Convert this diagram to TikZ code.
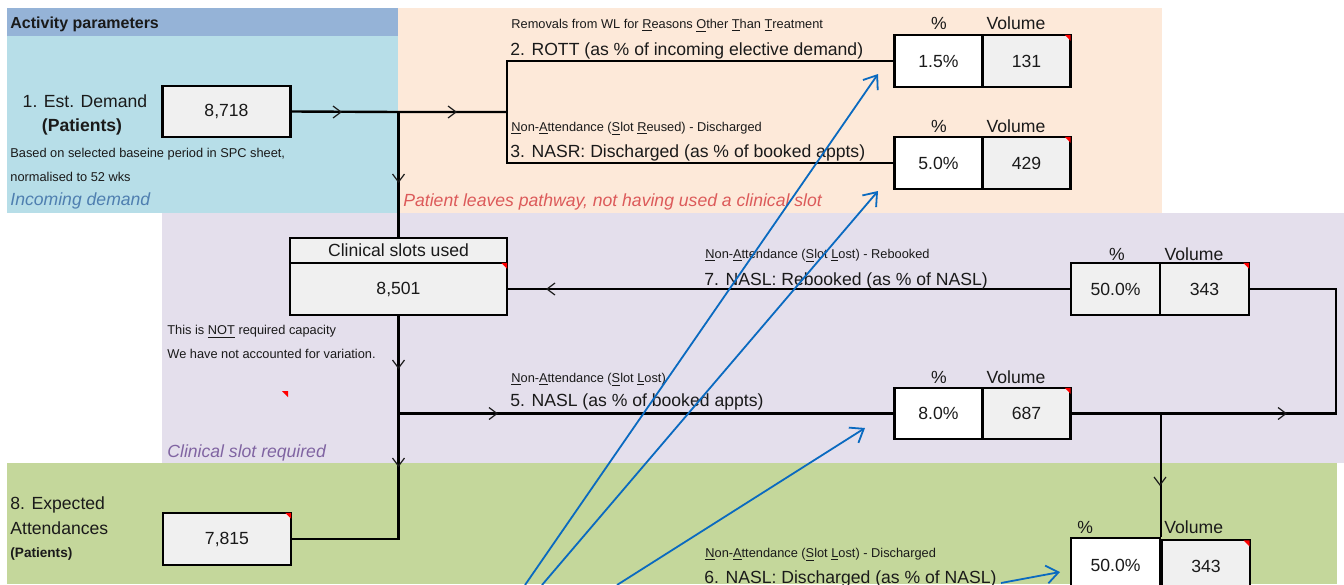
\documentclass[tikz,border=0pt]{standalone}
\usepackage{fontspec}
\setmainfont{Liberation Sans}
\usetikzlibrary{arrows.meta,calc}
\definecolor{hdr}{HTML}{95B3D7}
\definecolor{ltblue}{HTML}{B7DEE8}
\definecolor{peach}{HTML}{FDE9D9}
\definecolor{lav}{HTML}{E4DFEC}
\definecolor{grn}{HTML}{C4D79B}
\definecolor{cellgray}{HTML}{F0F0F0}
\definecolor{inblue}{HTML}{4F7FB0}
\definecolor{leavered}{HTML}{DC5A5A}
\definecolor{slotpurple}{HTML}{8064A2}
\definecolor{arrblue}{HTML}{0A6AC0}
\definecolor{txt}{HTML}{1A1A1A}
\begin{document}
\begin{tikzpicture}[x=0.5pt,y=-0.5pt,
  txtbig/.style={font=\fontsize{8.8}{10}\selectfont, text=txt, inner sep=0pt},
  txtsmall/.style={font=\fontsize{6.4}{7.5}\selectfont, text=txt, inner sep=0pt},
  cellbox/.style={draw=black, line width=1.2pt, inner sep=0pt, font=\fontsize{8.8}{10}\selectfont, text=txt},
  graycell/.style={cellbox, fill=cellgray},
  whitecell/.style={cellbox, fill=white},
  conn/.style={draw=black, line width=1.2pt},
  bluearrow/.style={draw=arrblue, line width=0.9pt, -{Straight Barb[length=6pt,width=9pt,line width=0.9pt]}},
  chevR/.pic={\draw[line width=0.6pt, txt] (-4,-6) -- (4,0) -- (-4,6);},
  chevL/.pic={\draw[line width=0.6pt, txt] (4,-6) -- (-4,0) -- (4,6);},
  chevD/.pic={\draw[line width=0.6pt, txt] (-6,-4) -- (0,4) -- (6,-4);},
  redc/.pic={\fill[red] (-6,0) -- (0,0) -- (0,6) -- cycle;}
]
\useasboundingbox (0,0) rectangle (1344,584);
\clip (0,0) rectangle (1344,584);
\fill[white] (0,0) rectangle (1344,584);

% backgrounds
\fill[hdr] (7,8) rectangle (398,36);
\fill[ltblue] (7,36) rectangle (398,213);
\fill[peach] (398,8) rectangle (1162,213);
\fill[lav] (162,213) rectangle (1344,463);
\fill[grn] (7,463) rectangle (1337,584);

% boxes
\node[graycell, minimum width=64pt, minimum height=25.5pt] (b1) at (226.5,111.5) {8,718};
\node[whitecell, minimum width=44pt, minimum height=26pt] (r1p) at (938.5,61) {1.5\%};
\node[graycell, minimum width=44pt, minimum height=26pt] (r1v) at (1026.5,61) {131};
\node[whitecell, minimum width=44pt, minimum height=26pt] (r2p) at (938.5,163) {5.0\%};
\node[graycell, minimum width=44pt, minimum height=26pt] (r2v) at (1026.5,163) {429};
\node[graycell, minimum width=108.5pt, minimum height=12.5pt] (csh) at (398.5,250.5) {Clinical slots used};
\node[graycell, minimum width=108.5pt, minimum height=26pt] (csv) at (398.5,289) {8,501};
\node[graycell, minimum width=44.5pt, minimum height=26pt] (b7p) at (1115.5,289) {50.0\%};
\node[graycell, minimum width=44.5pt, minimum height=26pt] (b7v) at (1204.5,289) {343};
\node[whitecell, minimum width=44pt, minimum height=25.5pt] (b5p) at (938.5,413.5) {8.0\%};
\node[graycell, minimum width=44pt, minimum height=25.5pt] (b5v) at (1026.5,413.5) {687};
\node[graycell, minimum width=64pt, minimum height=26pt] (b8) at (227,539) {7,815};
\node[whitecell, minimum width=44.5pt, minimum height=27pt] (b6p) at (1115.5,565) {50.0\%};
\node[graycell, line width=0.6pt, minimum width=44pt, minimum height=26pt] (b6v) at (1206,566) {343};

% connectors
\coordinate (j1) at (398.5,112);
\coordinate (j2) at (507,112);
\coordinate (loop) at (1336,350);
\draw[conn] (b1.east) -- (j1) -- (j2);
\draw[conn] (r1p.west) -| (j2) |- (r2p.west);
\draw[conn] (j1) -- (csh.north);
\draw[conn] (csv.east) -- (b7p.west);
\draw[conn] (b7v.east) -| (loop) |- (b5v.east);
\draw[conn] (csv.south) -- (csv.south |- b8.east) -- (b8.east);
\draw[conn] (csv.south |- b5p.west) -- (b5p.west);
\draw[conn] (b6p.north east |- b5v.east) -- (b6p.north east);

% chevrons
\pic at (337,112) {chevR};
\pic at (452,112) {chevR};
\pic at (493,413.5) {chevR};
\pic at (1282,413.5) {chevR};
\pic at (551,289) {chevL};
\pic at (398.5,178) {chevD};
\pic at (398.5,364) {chevD};
\pic at (398.5,462) {chevD};
\pic at (1160,481) {chevD};

% red corner marks
\pic at ($(r1v.north east)+(-1,1)$) {redc};
\pic at ($(r2v.north east)+(-1,1)$) {redc};
\pic at ($(csv.north east)+(-1,1)$) {redc};
\pic at ($(b7v.north east)+(-1,1)$) {redc};
\pic at ($(b5v.north east)+(-1,1)$) {redc};
\pic at ($(b8.north east)+(-1,1)$) {redc};
\pic at ($(b6v.north east)+(-1,1)$) {redc};
\pic at (288,391) {redc};

% texts: blue panel
\node[anchor=base west, inner sep=0pt, font=\bfseries\fontsize{8}{9}\selectfont, text=txt] (hdrtxt) at (10,28) {Activity parameters};
\node[txtbig, anchor=base] (t1a) at (85,107) {1. Est. Demand};
\node[txtbig, anchor=base, font=\bfseries\fontsize{8.8}{10}\selectfont] (t1b) at (82,131) {(Patients)};
\node[txtsmall, anchor=base west] (t1c) at (10,157) {Based on selected baseine period in SPC sheet,};
\node[txtsmall, anchor=base west] (t1d) at (10,181) {normalised to 52 wks};
\node[txtbig, anchor=base west, text=inblue, font=\itshape\fontsize{8.8}{10}\selectfont] (t1e) at (10,205) {Incoming demand};

% peach panel
\node[txtsmall, anchor=base west] (t2a) at (511,28) {Removals from WL for \underline{R}easons \underline{O}ther \underline{T}han \underline{T}reatment};
\node[txtbig, anchor=base west] (t2b) at (510,55) {2. ROTT (as \% of incoming elective demand)};
\node[txtsmall, anchor=base west] (t3a) at (511,131) {\underline{N}on-\underline{A}ttendance (\underline{S}lot \underline{R}eused) - Discharged};
\node[txtbig, anchor=base west] (t3b) at (510,157) {3. NASR: Discharged (as \% of booked appts)};
\node[txtbig, anchor=base west, text=leavered, font=\itshape\fontsize{8.8}{10}\selectfont] (t3c) at (403,206) {Patient leaves pathway, not having used a clinical slot};
\node[txtbig, anchor=base] (p2) at (939,29) {\%};
\node[txtbig, anchor=base] (v2) at (1016,29) {Volume};
\node[txtbig, anchor=base] (p3) at (939,132) {\%};
\node[txtbig, anchor=base] (v3) at (1016,132) {Volume};

% lavender panel
\node[txtsmall, anchor=base west] (t7a) at (705,258) {\underline{N}on-\underline{A}ttendance (\underline{S}lot \underline{L}ost) - Rebooked};
\node[txtbig, anchor=base west] (t7b) at (704,285) {7. NASL: Rebooked (as \% of NASL)};
\node[txtbig, anchor=base] (p7) at (1117,260) {\%};
\node[txtbig, anchor=base] (v7) at (1194,260) {Volume};
\node[txtsmall, anchor=base west] (tn1) at (167,334) {This is \underline{NOT} required capacity};
\node[txtsmall, anchor=base west] (tn2) at (167,358) {We have not accounted for variation.};
\node[txtbig, anchor=base west, text=slotpurple, font=\itshape\fontsize{8.8}{10}\selectfont] (tcs) at (167,457) {Clinical slot required};
\node[txtsmall, anchor=base west] (t5a) at (511,382) {\underline{N}on-\underline{A}ttendance (\underline{S}lot \underline{L}ost)};
\node[txtbig, anchor=base west] (t5b) at (510,406) {5. NASL (as \% of booked appts)};
\node[txtbig, anchor=base] (p5) at (939,383) {\%};
\node[txtbig, anchor=base] (v5) at (1016,383) {Volume};

% green panel
\node[txtbig, anchor=base west] (t8a) at (10,509) {8. Expected};
\node[txtbig, anchor=base west] (t8b) at (10,534) {Attendances};
\node[anchor=base west, inner sep=0pt, text=txt, font=\bfseries\fontsize{6.8}{8}\selectfont] (t8c) at (10,557) {(Patients)};
\node[txtsmall, anchor=base west] (t6a) at (705,557) {\underline{N}on-\underline{A}ttendance (\underline{S}lot \underline{L}ost) - Discharged};
\node[txtbig, anchor=base west] (t6b) at (704,583) {6. NASL: Discharged (as \% of NASL)};
\node[txtbig, anchor=base west] (p6) at (1077,533) {\%};
\node[txtbig, anchor=base west] (v6) at (1164,533) {Volume};

% blue arrows
\coordinate (s1) at (525,585);
\coordinate (a1) at (878,74);
\coordinate (s2) at (542,585);
\coordinate (a2) at (878,191);
\coordinate (s3) at (617,585);
\coordinate (a3) at (865,428);
\coordinate (s4) at (1001,583);
\coordinate (a4) at (1060,572);
\draw[bluearrow] (s1) -- (a1);
\draw[bluearrow] (s2) -- (a2);
\draw[bluearrow] (s3) -- (a3);
\draw[bluearrow] (s4) -- (a4);
\end{tikzpicture}
\end{document}
